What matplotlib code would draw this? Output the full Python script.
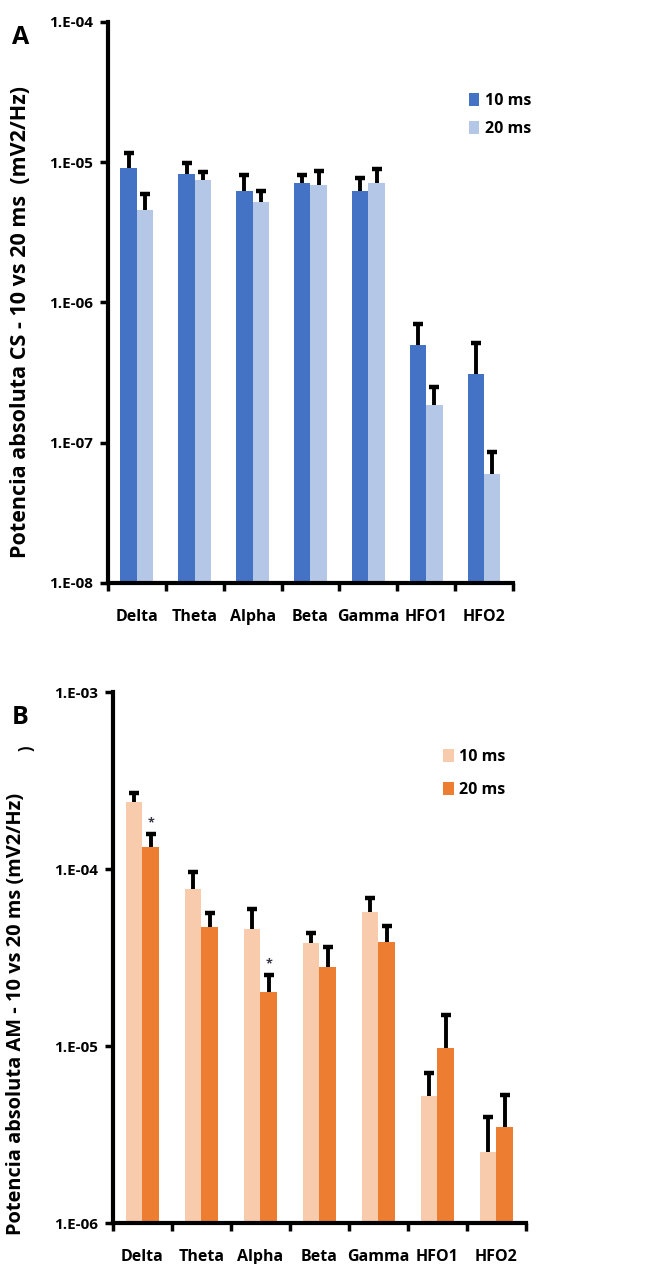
import numpy as np
import matplotlib.pyplot as plt
from matplotlib.ticker import NullLocator

plt.rcParams['font.family'] = ['Open Sans', 'DejaVu Sans']
plt.rcParams['font.weight'] = 'bold'

bands = ["Delta", "Theta", "Alpha", "Beta", "Gamma", "HFO1", "HFO2"]

# panel A - CS
cs_10 = [9.06e-6, 8.2e-6, 6.2e-6, 7.08e-6, 6.2e-6, 5.0e-7, 3.11e-7]
cs_10_top = [1.16e-5, 9.8e-6, 8.07e-6, 8.07e-6, 7.69e-6, 7.08e-7, 5.18e-7]
cs_20 = [4.6e-6, 7.46e-6, 5.18e-6, 6.85e-6, 7.08e-6, 1.87e-7, 6.0e-8]
cs_20_top = [5.9e-6, 8.46e-6, 6.2e-6, 8.62e-6, 8.9e-6, 2.51e-7, 8.6e-8]

# panel B - AM
am_10 = [2.39e-4, 7.7e-5, 4.58e-5, 3.82e-5, 5.71e-5, 5.22e-6, 2.52e-6]
am_10_top = [2.69e-4, 9.6e-5, 5.94e-5, 4.35e-5, 6.86e-5, 7.03e-6, 3.97e-6]
am_20 = [1.33e-4, 4.7e-5, 2.02e-5, 2.79e-5, 3.87e-5, 9.76e-6, 3.49e-6]
am_20_top = [1.58e-4, 5.64e-5, 2.52e-5, 3.63e-5, 4.77e-5, 1.5e-5, 5.28e-6]
am_star = ["Delta", "Alpha"]

fig = plt.figure(figsize=(6.67, 12.64), dpi=100)
axA = fig.add_axes([0.162, 0.5388, 0.607, 0.4438])
axB = fig.add_axes([0.1694, 0.0324, 0.619, 0.4201])


def draw(ax, v10, t10, v20, t20, c10, c20, ylim, ylabel, lsize, stars=()):
    x = np.arange(len(bands))
    w = 0.285
    ax.bar(x - w / 2, v10, w, color=c10, label="10 ms", zorder=2)
    ax.bar(x + w / 2, v20, w, color=c20, label="20 ms", zorder=2)
    # upper error bars only
    for xs, v, t in [(x - w / 2, v10, t10), (x + w / 2, v20, t20)]:
        ax.vlines(xs, v, t, color="black", linewidth=2.8, zorder=3)
        ax.plot(xs, t, ls="none", marker="_", ms=6.5, mew=3.2, color="black", zorder=3)
    for b in stars:
        i = bands.index(b)
        ax.annotate("*", (x[i] + w / 2, t20[i]), xytext=(0, 3), textcoords="offset points",
                    ha="center", va="bottom", fontsize=9, color="#333344")
    ax.set_yscale("log")
    ax.set_ylim(*ylim)
    ax.set_xlim(-0.5, len(bands) - 0.5)
    decs = np.arange(int(np.log10(ylim[0])), int(np.log10(ylim[1])) + 1)
    ax.set_yticks([10.0 ** d for d in decs])
    ax.set_yticklabels(["1.E-%02d" % (-d) for d in decs])
    ax.yaxis.set_minor_locator(NullLocator())
    ax.set_xticks(np.arange(len(bands) + 1) - 0.5)
    ax.set_xticklabels([])
    ax.set_xticks(x, minor=True)
    ax.set_xticklabels(bands, minor=True)
    ax.tick_params(axis="x", which="minor", length=0, pad=19, labelsize=11.5)
    ax.tick_params(axis="x", which="major", length=6, width=2.5, direction="out")
    ax.tick_params(axis="y", which="major", length=6, width=2.5, labelsize=11, pad=5)
    for s in ["top", "right"]:
        ax.spines[s].set_visible(False)
    for s in ["left", "bottom"]:
        ax.spines[s].set_linewidth(3)
    ax.set_ylabel(ylabel, fontsize=lsize, fontweight="bold")


draw(axA, cs_10, cs_10_top, cs_20, cs_20_top, "#4472C4", "#B4C7E7", (1e-8, 1e-4),
     "Potencia absoluta CS - 10 vs 20 ms  (mV2/Hz)", 15.5)
axA.yaxis.set_label_coords(-0.19, 0.465)
axA.legend(loc="upper left", bbox_to_anchor=(0.875, 0.885), frameon=False, fontsize=11.5,
           handlelength=0.65, handleheight=0.9, handletextpad=0.35, labelspacing=0.75,
           borderaxespad=0)

draw(axB, am_10, am_10_top, am_20, am_20_top, "#F8CBAD", "#ED7D31", (1e-6, 1e-3),
     "Potencia absoluta AM - 10 vs 20 ms (mV2/Hz)", 14.4, stars=am_star)
axB.yaxis.set_label_coords(-0.21, 0.394)
axB.legend(loc="upper left", bbox_to_anchor=(0.785, 0.905), frameon=False, fontsize=11.5,
           handlelength=0.65, handleheight=0.9, handletextpad=0.35, labelspacing=1.05,
           borderaxespad=0)

fig.text(12 / 667, 1 - 37 / 1264, "A", fontsize=18, fontweight="bold", ha="left", va="center")
fig.text(12 / 667, 1 - 717 / 1264, "B", fontsize=18, fontweight="bold", ha="left", va="center")
fig.text(27 / 667, 1 - 748 / 1264, ")", fontsize=12, fontweight="bold", rotation=90,
         ha="center", va="center")

fig.savefig("out.png", dpi=100)
